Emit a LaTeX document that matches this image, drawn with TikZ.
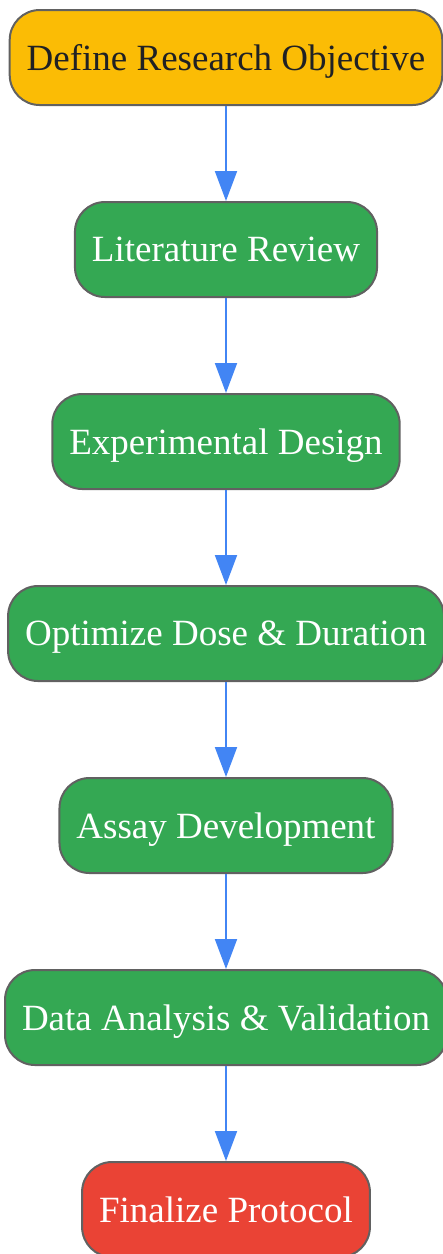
\documentclass[tikz,border=0pt]{standalone}
\usepackage{fontspec}
\setmainfont{Liberation Serif}
\usetikzlibrary{matrix,arrows.meta}
\definecolor{objyellow}{HTML}{FBBC05}
\definecolor{objtext}{HTML}{202124}
\definecolor{stagegreen}{HTML}{34A853}
\definecolor{endred}{HTML}{EA4335}
\definecolor{stageborder}{HTML}{616161}
\definecolor{flowblue}{HTML}{4285F4}

\begin{document}
\begin{tikzpicture}[x=1pt, y=1pt,
  stage/.style={draw=stageborder, line width=2pt, rounded corners=30pt,
    minimum height=95pt, inner xsep=17pt, text depth=0pt, fill=stagegreen,
    text=white, font=\fontsize{37}{44}\selectfont},
  startstage/.style={stage, fill=objyellow, text=objtext},
  endstage/.style={stage, fill=endred},
  flow/.style={-{Triangle[width=22pt,length=30pt]}, color=flowblue, line width=2pt}]
  \useasboundingbox (0,0) rectangle (443,-1254);
  \matrix (m) [matrix of nodes, row sep=95pt, nodes={stage},
    matrix anchor=m-1-1.center, at={(226,-57.5)}]
  {
|[startstage]| Define Research Objective \\
Literature Review \\
Experimental Design \\
Optimize Dose \& Duration \\
Assay Development \\
Data Analysis \& Validation \\
|[endstage]| Finalize Protocol \\
};
  \path[flow]
  (m-1-1) edge (m-2-1)
  (m-2-1) edge (m-3-1)
  (m-3-1) edge (m-4-1)
  (m-4-1) edge (m-5-1)
  (m-5-1) edge (m-6-1)
  (m-6-1) edge (m-7-1);
\end{tikzpicture}
\end{document}
